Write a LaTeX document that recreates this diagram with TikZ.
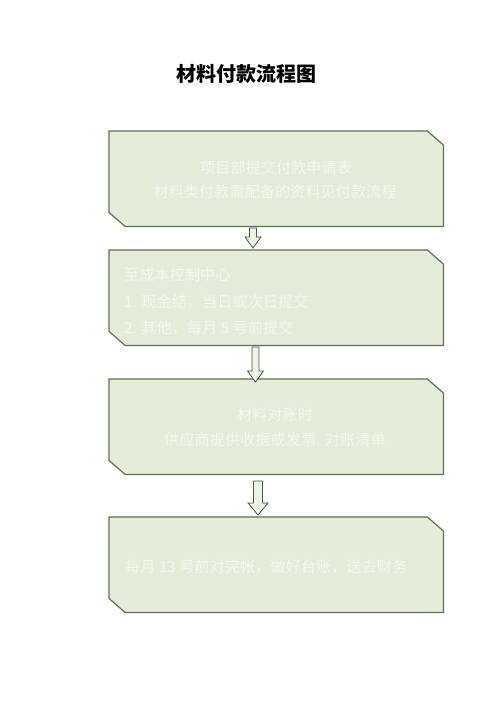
\documentclass[tikz,border=0pt]{standalone}
\usepackage{fontspec}
\newfontfamily\cjk{Noto Sans CJK SC}
\usetikzlibrary{calc}
\definecolor{boxfill}{HTML}{E3EDD8}
\definecolor{boxline}{HTML}{636D59}
\definecolor{boxtext}{HTML}{F4F8EF}
\definecolor{arrfill}{HTML}{EEF5E7}
\definecolor{arrline}{HTML}{4E5548}
\tikzset{
  boxnode/.style={minimum width=334pt, minimum height=95pt, inner sep=0pt, anchor=north west},
  boxshape/.style={draw=boxline, line width=1.2pt, fill=boxfill, line join=miter},
  btext/.style={text=boxtext, font=\cjk\fontsize{15.2}{24}\selectfont, inner sep=0pt},
  arrowst/.style={draw=arrline, line width=0.8pt, fill=arrfill, line join=miter},
}
\newcommand\snipbox[1]{%
  \path[boxshape] (#1.north west) -- ([xshift=-16pt]#1.north east) -- ([yshift=-14pt]#1.north east)
    -- (#1.south east) -- ([xshift=16pt]#1.south west) -- ([yshift=14pt]#1.south west) -- cycle;}
\newcommand\blockarrow[6]{%
  \path[arrowst] (#1-#4,#2) -- (#1+#4,#2) -- (#1+#4,#3-#6) -- (#1+#5,#3-#6) -- (#1,#3)
    -- (#1-#5,#3-#6) -- (#1-#4,#3-#6) -- cycle;}
\begin{document}
\begin{tikzpicture}[x=1pt,y=-1pt]
\useasboundingbox (0,0) rectangle (500,707);
\fill[white] (0,0) rectangle (500,707);
\node[font=\cjk\bfseries\fontsize{20}{24}\selectfont, inner sep=0pt] (title) at (246,74) {材料付款流程图};

\node[boxnode] (b1) at (109,131) {};
\node[boxnode] (b2) at (109,250) {};
\node[boxnode] (b3) at (109,379) {};
\node[boxnode] (b4) at (109,517) {};

\snipbox{b1}
\snipbox{b2}
\snipbox{b3}
\snipbox{b4}

% arrows
\blockarrow{253}{228}{248}{3.5}{8}{11}
\blockarrow{255.5}{347}{382}{3.5}{8}{11}
\blockarrow{258}{481}{515}{4.5}{10}{12}

% texts
\node[btext] (t1a) at (276,168) {项目部提交付款申请表};
\node[btext] (t1b) at (275,192) {材料类付款需配备的资料见付款流程};

\node[btext, anchor=west] (t2a) at (124,275) {至成本控制中心};
\node[btext, anchor=west] (t2b) at (124,302) {1. 现金结，当日或次日提交};
\node[btext, anchor=west] (t2c) at (124,328) {2. 其他，每月 5 号前提交};

\node[btext] (t3a) at (275,415) {材料对账时};
\node[btext] (t3b) at (275,440) {供应商提供收据或发票. 对账清单};

\node[btext, anchor=west] (t4a) at (125,567) {每月 13 号前对完帐，做好台账，送去财务};
\end{tikzpicture}
\end{document}
